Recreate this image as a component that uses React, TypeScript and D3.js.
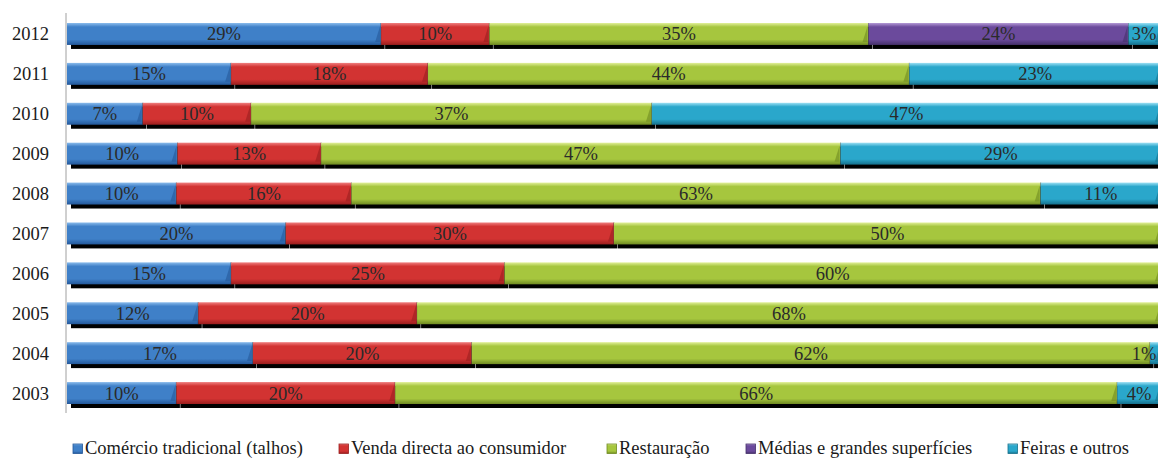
import React from 'react';
import * as d3 from 'd3';

const years = ['2012', '2011', '2010', '2009', '2008', '2007', '2006', '2005', '2004', '2003'];
const series = [
  'Comércio tradicional (talhos)',
  'Venda directa ao consumidor',
  'Restauração',
  'Médias e grandes superfícies',
  'Feiras e outros',
];
// values per year, same order as series
const comercio = [29, 15, 7, 10, 10, 20, 15, 12, 17, 10];
const venda = [10, 18, 10, 13, 16, 30, 25, 20, 20, 20];
const restauracao = [35, 44, 37, 47, 63, 50, 60, 68, 62, 66];
const medias = [24, 0, 0, 0, 0, 0, 0, 0, 0, 0];
const feiras = [3, 23, 47, 29, 11, 0, 0, 0, 1, 4];

const colors = [
  { top: '#8bbcec', mid: '#3f80c8', bot: '#24589a' },
  { top: '#f08080', mid: '#d23332', bot: '#9a1e1e' },
  { top: '#e2f09a', mid: '#a6c63e', bot: '#6f8a22' },
  { top: '#b49ad6', mid: '#6b4a9c', bot: '#45306a' },
  { top: '#9ee0f4', mid: '#2aa7cb', bot: '#16708c' },
];
const legendX = [73, 339, 607, 746, 1008];

const width = 1158;
const height = 459;
const left = 67;
const fontStyle = { fontFamily: '"Liberation Serif"' };

export default function App() {
  const rows = years.map((y, i) => ({
    year: y,
    s0: comercio[i],
    s1: venda[i],
    s2: restauracao[i],
    s3: medias[i],
    s4: feiras[i],
  }));
  const keys = ['s0', 's1', 's2', 's3', 's4'];
  const stacked = d3.stack<any>().keys(keys).offset(d3.stackOffsetExpand)(rows);

  const x = d3.scaleLinear().domain([0, 1]).range([left, 1161]);
  const y = d3.scaleBand().domain(years).range([23, 404]).paddingInner(0.45).paddingOuter(0);
  const bw = y.bandwidth();

  return (
    <svg width={width} height={height} style={{ position: 'absolute', left: 0, top: 0 }}>
      <defs>
        {colors.map((c, i) => (
          <linearGradient key={i} id={`g${i}`} x1="0" y1="0" x2="0" y2="1">
            <stop offset="0" stopColor={c.top} />
            <stop offset="0.18" stopColor={c.mid} />
            <stop offset="0.75" stopColor={c.mid} />
            <stop offset="1" stopColor={c.bot} />
          </linearGradient>
        ))}
      </defs>
      <line x1={66} x2={66} y1={13} y2={413} stroke="#a0a0a0" strokeWidth={1} />
      {/* shadows */}
      {stacked.map((s, si) =>
        s.map((d, di) =>
          d[1] - d[0] > 0 ? (
            <rect key={`sh${si}-${di}`} x={x(d[0]) + 4} y={y(years[di])! + 4} width={Math.max(0, x(d[1]) - x(d[0]) - 0.5)} height={bw} fill="#000" />
          ) : null
        )
      )}
      {stacked.map((s, si) =>
        s.map((d, di) => {
          const w = x(d[1]) - x(d[0]);
          if (w <= 0) return null;
          const y0 = y(years[di])!;
          return (
            <g key={`b${si}-${di}`}>
              <rect x={x(d[0])} y={y0} width={w} height={bw} fill={`url(#g${si})`} />
              <polygon
                points={`${x(d[1]) - 6},${y0 + bw - 3} ${x(d[1]) - 1},${y0 + 3} ${x(d[1]) - 1},${y0 + bw - 3}`}
                fill={colors[si].bot}
                opacity={0.6}
              />
              <line x1={x(d[1])} x2={x(d[1])} y1={y0} y2={y0 + bw} stroke="#333" strokeWidth={1} opacity={0.7} />
            </g>
          );
        })
      )}
      {stacked.map((s, si) =>
        s.map((d, di) => {
          const v = rows[di][keys[si]];
          if (!v) return null;
          const cx = Math.min((x(d[0]) + x(d[1])) / 2, width - 14);
          return (
            <text
              key={`t${si}-${di}`}
              x={cx}
              y={y(years[di])! + bw / 2 + 6.5}
              textAnchor="middle"
              fontSize={18.5}
              style={fontStyle}
              fill="#2a2a2a"
            >
              {v}%
            </text>
          );
        })
      )}
      {years.map((yr) => (
        <text key={yr} x={49} y={y(yr)! + bw / 2 + 6.5} textAnchor="end" fontSize={18.5} style={fontStyle} fill="#1a1a1a">
          {yr}
        </text>
      ))}
      {series.map((name, i) => (
        <g key={name}>
          <rect x={legendX[i]} y={444} width={9.5} height={9.5} fill={`url(#g${i})`} stroke={colors[i].bot} strokeWidth={0.8} />
          <text x={legendX[i] + 12} y={454} fontSize={18.5} style={fontStyle} fill="#1a1a1a">
            {name}
          </text>
        </g>
      ))}
    </svg>
  );
}
